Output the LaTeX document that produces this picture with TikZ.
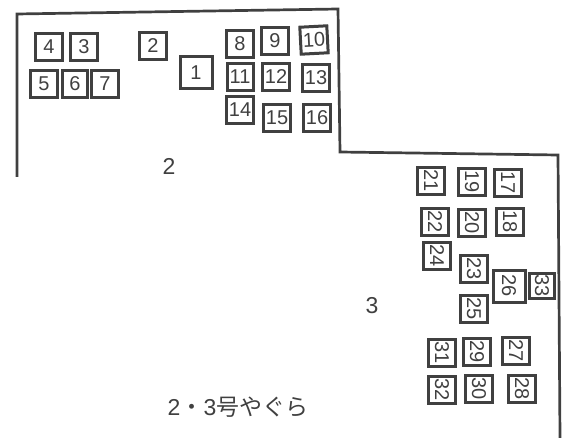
\documentclass[tikz,border=0pt]{standalone}
\usepackage{fontspec}
\setmainfont{Liberation Sans}
\newfontfamily\cjkfont{Noto Sans CJK JP}
\usepackage{xcolor}
\definecolor{inkgray}{gray}{0.25}
\tikzset{
    niche/.style={rectangle, draw=inkgray, text=inkgray, line width=3pt, minimum width=27pt, minimum height=27pt, inner sep=0pt, font=\fontsize{20}{20}\selectfont},
    bigniche/.style={niche, minimum width=32pt, minimum height=32pt},
    sideniche/.style={niche, rotate=-90},
    outline/.style={draw=inkgray, line width=2.7pt, line join=miter},
    arealabel/.style={text=inkgray, font=\fontsize{23}{23}\selectfont, inner sep=0pt}
}
\begin{document}
\begin{tikzpicture}[x=1pt, y=-1pt]
    \useasboundingbox (0,0) rectangle (572,438);
    \draw[outline] (17,177) -- (17,14) -- (338,9) -- (340,152) -- (558,155) -- (560,438);
    % yagura 2
    \node[bigniche] (n1) at (196,73) {1};
    \node[niche] (n2) at (153,46) {2};
    \node[niche] (n3) at (84,47) {3};
    \node[niche] (n4) at (49,47) {4};
    \node[niche] (n5) at (44,84) {5};
    \node[niche, minimum width=25pt] (n6) at (75,84) {6};
    \node[niche] (n7) at (105,84) {7};
    \node[niche] (n8) at (240,44) {8};
    \node[niche] (n9) at (275,41) {9};
    \node[niche, rotate=3] (n10) at (314,40) {10};
    \node[niche, minimum width=26pt] (n11) at (240,77) {11};
    \node[niche] (n12) at (276,77) {12};
    \node[niche] (n13) at (316,78) {13};
    \node[niche] (n14) at (240,110) {14};
    \node[niche] (n15) at (277,118) {15};
    \node[niche] (n16) at (317,118) {16};
    % yagura 3
    \node[sideniche] (n17) at (508,183) {17};
    \node[sideniche] (n18) at (510,222) {18};
    \node[sideniche] (n19) at (472,182) {19};
    \node[sideniche] (n20) at (472,223) {20};
    \node[sideniche] (n21) at (431,181) {21};
    \node[sideniche] (n22) at (435,222) {22};
    \node[sideniche] (n23) at (474,269) {23};
    \node[sideniche] (n24) at (437,256) {24};
    \node[sideniche] (n25) at (474,309) {25};
    \node[sideniche, minimum width=32pt, minimum height=32pt] (n26) at (509,286) {26};
    \node[sideniche] (n27) at (516,351) {27};
    \node[sideniche] (n28) at (522,389) {28};
    \node[sideniche] (n29) at (477,352) {29};
    \node[sideniche] (n30) at (479,389) {30};
    \node[sideniche] (n31) at (442,353) {31};
    \node[sideniche] (n32) at (442,390) {32};
    \node[sideniche, minimum width=25pt, minimum height=25pt] (n33) at (542,286) {33};
    % area labels
    \node[arealabel] (area2) at (169,166) {2};
    \node[arealabel] (area3) at (372,306) {3};
    \node[arealabel] (title) at (238,407) {2{\cjkfont ・}3{\cjkfont 号やぐら}};
\end{tikzpicture}
\end{document}
